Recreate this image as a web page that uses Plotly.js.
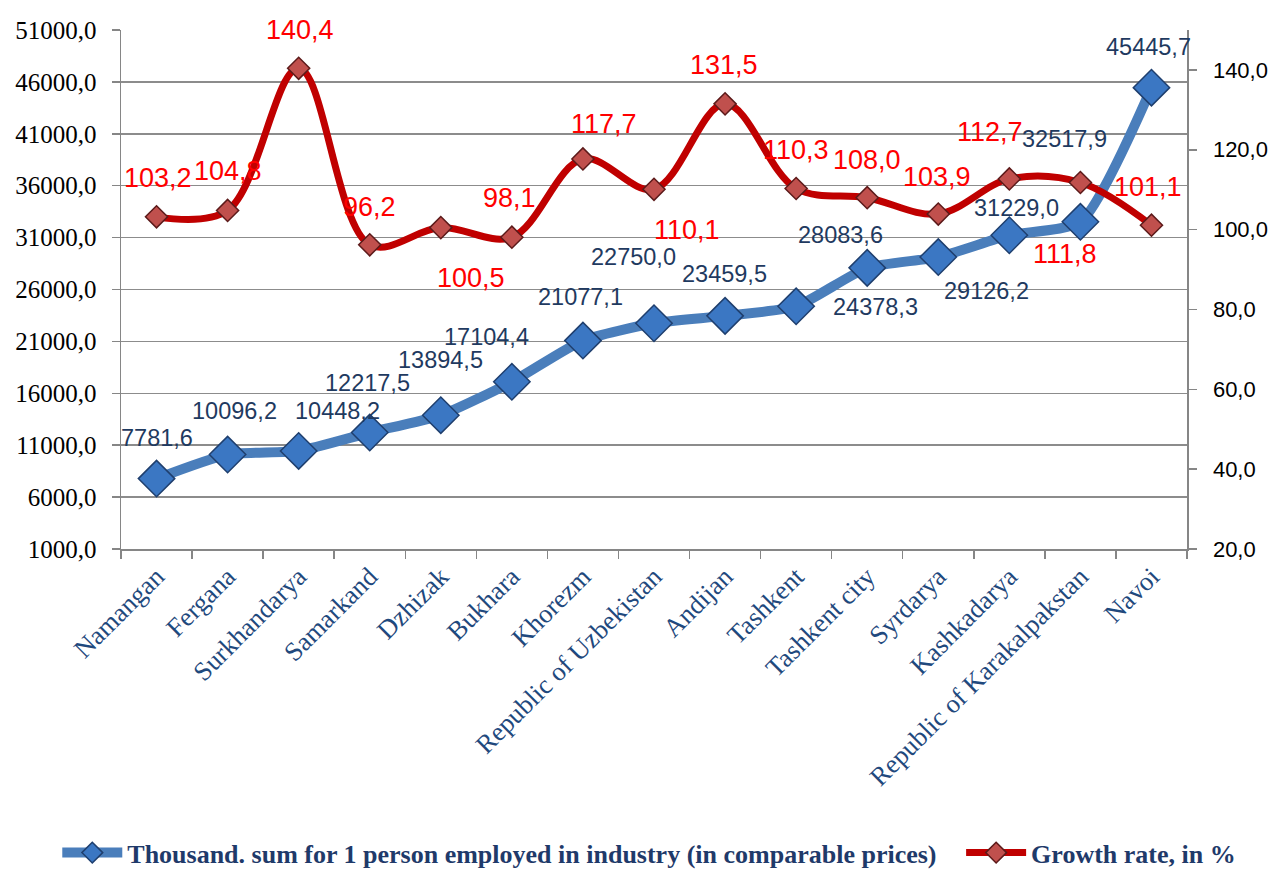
<!DOCTYPE html>
<html><head><meta charset="utf-8">
<script src="https://cdn.plot.ly/plotly-3.0.1.min.js"></script>
<style>html,body{margin:0;padding:0;background:#fff}#chart{width:1273px;height:871px}</style>
</head><body><div id="chart"></div>
<script>
const regions = ["Namangan","Fergana","Surkhandarya","Samarkand","Dzhizak","Bukhara","Khorezm","Republic of Uzbekistan","Andijan","Tashkent","Tashkent city","Syrdarya","Kashkadarya","Republic of Karakalpakstan","Navoi"];
const outputPerWorker = [7781.6,10096.2,10448.2,12217.5,13894.5,17104.4,21077.1,22750.0,23459.5,24378.3,28083.6,29126.2,31229.0,32517.9,45445.7];
const growthRate = [103.2,104.8,140.4,96.2,100.5,98.1,117.7,110.1,131.5,110.3,108.0,103.9,112.7,111.8,101.1];
const seriesNames = ["Thousand. sum for 1 person employed in industry (in comparable prices)","Growth rate, in %"];

// label offsets in pixels [dx, dy (up positive)]
const blueLabelShift = [[0,41],[7,44],[39,40],[-2,50],[0,55],[-25,45],[-2,44],[-21,66],[-1,42],[79,-1],[-27,33],[48,-34],[7,27],[-16,83],[-3,41]];
const redLabelShift = [[1,39],[0,39],[1,38],[0,38],[30,-50],[-2,39],[21,35],[33,-41],[-1,39],[0,38],[0,38],[-1,37],[-19,47],[-15,-71],[-3,38]];

const fmt = v => v.toFixed(1).replace('.', ',');

const blueTrace = {
  x: regions, y: outputPerWorker, name: seriesNames[0], yaxis: 'y', legend: 'legend',
  type: 'scatter', mode: 'lines+markers', cliponaxis: false,
  line: {color: '#4A7EBB', width: 10, shape: 'spline', smoothing: 0.6},
  marker: {symbol: 'diamond', size: 28, color: '#3B77C3', line: {color: '#1F3F6E', width: 1.5}},
  hoverinfo: 'skip'
};
const redTrace = {
  x: regions, y: growthRate, name: seriesNames[1], yaxis: 'y2', legend: 'legend2',
  type: 'scatter', mode: 'lines+markers', cliponaxis: false,
  line: {color: '#C00000', width: 7, shape: 'spline', smoothing: 1},
  marker: {symbol: 'diamond', size: 17, color: '#C0504D', line: {color: '#5C1A1A', width: 1.5}},
  hoverinfo: 'skip'
};

const annotations = [];
regions.forEach((r, i) => {
  annotations.push({x: r, y: outputPerWorker[i], xref: 'x', yref: 'y', text: fmt(outputPerWorker[i]),
    showarrow: false, xanchor: 'center', yanchor: 'middle', xshift: blueLabelShift[i][0], yshift: blueLabelShift[i][1],
    font: {family: 'Liberation Sans, Arial, sans-serif', size: 23.5, color: '#1F3A60'}});
});
regions.forEach((r, i) => {
  annotations.push({x: r, y: growthRate[i], xref: 'x', yref: 'y2', text: fmt(growthRate[i]),
    showarrow: false, xanchor: 'center', yanchor: 'middle', xshift: redLabelShift[i][0], yshift: redLabelShift[i][1],
    font: {family: 'Liberation Sans, Arial, sans-serif', size: 27, color: '#FF0000'}});
});

const axisGray = '#868686';
const legendFont = {family: 'Liberation Serif, Times New Roman, serif', size: 26, color: '#1F3A6A', weight: 'bold'};
const layout = {
  width: 1273, height: 871,
  margin: {l: 121, r: 86, t: 30, b: 322},
  paper_bgcolor: '#fff', plot_bgcolor: '#fff',
  separators: ',.',
  showlegend: true,
  legend: {orientation: 'h', xref: 'container', yref: 'container', x: 0.045, xanchor: 'left', y: 0.021, yanchor: 'middle',
    itemwidth: 60, font: legendFont},
  legend2: {orientation: 'h', xref: 'container', yref: 'container', x: 0.755, xanchor: 'left', y: 0.021, yanchor: 'middle',
    itemwidth: 60, font: legendFont},
  xaxis: {type: 'category', categoryorder: 'array', categoryarray: regions, range: [-0.5, 14.5],
    tickson: 'boundaries', ticks: 'outside', ticklen: 8, tickcolor: axisGray, tickwidth: 1.5,
    showline: true, linecolor: axisGray, linewidth: 1.5, showgrid: false, tickangle: -45,
    tickfont: {family: 'Liberation Serif, Times New Roman, serif', size: 26.5, color: '#1F497D'}},
  yaxis: {side: 'left', range: [1000, 51000], tick0: 1000, dtick: 5000, tickformat: '.1f',
    ticks: 'outside', ticklen: 8, tickcolor: axisGray, tickwidth: 1.5, showline: true, linecolor: axisGray, linewidth: 1.5,
    showgrid: true, gridcolor: '#8C8C8C', gridwidth: 1.5, zeroline: false, ticklabelstandoff: 10,
    tickfont: {family: 'Liberation Serif, Times New Roman, serif', size: 25, color: '#000'}},
  yaxis2: {overlaying: 'y', side: 'right', range: [20, 150], tick0: 20, dtick: 20, tickformat: '.1f',
    ticks: 'outside', ticklen: 8, tickcolor: axisGray, tickwidth: 1.5, showline: true, linecolor: axisGray, linewidth: 1.5,
    showgrid: false, zeroline: false, ticklabelstandoff: 12,
    tickfont: {family: 'Liberation Sans Narrow, Arial Narrow, Liberation Sans, sans-serif', size: 22, color: '#000'}},
  annotations: annotations
};

Plotly.newPlot('chart', [blueTrace, redTrace], layout, {displayModeBar: false, staticPlot: true});
</script>
</body></html>
